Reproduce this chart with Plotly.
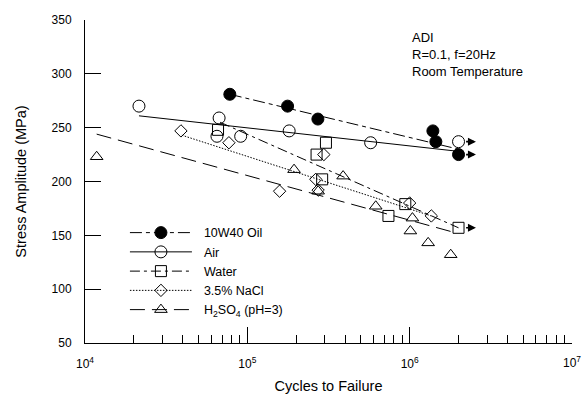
import math
import plotly.graph_objects as go

# ---- data ----
oil_x = [7.8e4, 1.77e5, 2.72e5, 1.39e6, 1.45e6, 2.0e6]
oil_y = [281, 270, 258, 247, 237, 225]
oil_fit_x = [7.8e4, 2.0e6]
oil_fit_y = [281, 230]

air_x = [2.15e4, 6.7e4, 6.5e4, 9.1e4, 1.81e5, 5.75e5, 2.0e6]
air_y = [270, 259, 242, 242, 247, 236, 237]
air_fit_x = [2.15e4, 2.0e6]
air_fit_y = [261, 228]

water_x = [6.6e4, 3.05e5, 2.67e5, 2.89e5, 7.4e5, 9.4e5, 2.0e6]
water_y = [248, 236, 225, 202, 168, 179, 157]
water_fit_x = [6.8e4, 2.0e6]
water_fit_y = [255, 157]

nacl_x = [3.9e4, 7.7e4, 2.96e5, 2.64e5, 1.58e5, 2.73e5, 1.0e6, 1.36e6]
nacl_y = [247, 236, 225, 202, 191, 192, 180, 168]
nacl_fit_x = [3.95e4, 1.36e6]
nacl_fit_y = [243, 168]

h2so4_x = [1.18e4, 1.94e5, 3.89e5, 2.73e5, 6.18e5, 1.04e6, 1.01e6, 1.3e6, 1.79e6]
h2so4_y = [223, 211, 205, 191, 177, 166, 154, 143, 132]
h2so4_fit_x = [1.18e4, 1.85e6]
h2so4_fit_y = [244, 153]

# run-out specimens (did not fail)
runout_x = [2.0e6, 2.0e6, 2.0e6]
runout_y = [225, 237, 157]

series_names = ["10W40 Oil", "Air", "Water", "3.5% NaCl", "H<sub>2</sub>SO<sub>4</sub> (pH=3)"]
x_decades = [4, 5, 6, 7]
x_minor_digits = [2, 3, 4, 5, 6, 7, 8, 9]
y_tick_vals = [50, 100, 150, 200, 250, 300, 350]

FONT = "Liberation Sans, Arial, sans-serif"
BLACK = "black"
PAD = "\u00a0\u00a0"

series = [
    (series_names[0], oil_x, oil_y, oil_fit_x, oil_fit_y, "circle", 12, "12px,4px,4px,4px"),
    (series_names[1], air_x, air_y, air_fit_x, air_fit_y, "circle-open", 12, "solid"),
    (series_names[2], water_x, water_y, water_fit_x, water_fit_y, "square-open", 11, "10px,4px,3px,4px"),
    (series_names[3], nacl_x, nacl_y, nacl_fit_x, nacl_fit_y, "diamond-open", 9.5, "1.5px,1.5px"),
    (series_names[4], h2so4_x, h2so4_y, h2so4_fit_x, h2so4_fit_y, "triangle-up-open", 11, "15px,7px"),
]

fig = go.Figure()
for name, xs, ys, fx, fy, sym, size, dash in series:
    fig.add_trace(go.Scatter(
        x=fx, y=fy, mode="lines", showlegend=False,
        line=dict(color=BLACK, width=1, dash=dash), hoverinfo="skip"))
    marker = dict(symbol=sym, size=size, color=BLACK,
                  line=dict(color=BLACK, width=1))
    fig.add_trace(go.Scatter(x=xs, y=ys, mode="markers", showlegend=False,
                             marker=marker, name=name))
    # legend entry (line style + marker)
    fig.add_trace(go.Scatter(x=[None], y=[None], mode="lines+markers", name=PAD + name,
                             line=dict(color=BLACK, width=1, dash=dash),
                             marker=marker))

# run-out arrows
for rx, ry in zip(runout_x, runout_y):
    fig.add_annotation(x=math.log10(rx * 1.28), y=ry, ax=math.log10(rx * 1.09), ay=ry,
                       xref="x", yref="y", axref="x", ayref="y", text="",
                       showarrow=True, arrowhead=2, arrowsize=1, arrowwidth=1.6,
                       arrowcolor=BLACK)

fig.add_annotation(x=0.667, y=0.975, xref="paper", yref="paper", xanchor="left",
                   yanchor="top", align="left", showarrow=False,
                   text="ADI<br>R=0.1, f=20Hz<br>Room Temperature",
                   font=dict(family=FONT, size=13, color=BLACK))

# last decade label sits at the right edge of the figure; drawn as annotation so the
# plot area is not shrunk to make room for it
fig.add_annotation(x=x_decades[-1], y=0, xref="x", yref="paper", xanchor="center",
                   yanchor="top", yshift=-9, showarrow=False,
                   text="10<sup>%d</sup>" % x_decades[-1],
                   font=dict(family=FONT, size=12, color=BLACK))

fig.update_layout(
    width=584, height=404,
    margin=dict(l=85, r=12, t=20, b=61),
    paper_bgcolor="white", plot_bgcolor="white",
    font=dict(family=FONT, size=12, color=BLACK),
    legend=dict(x=0.082, y=0.387, xanchor="left", yanchor="top",
                bgcolor="rgba(0,0,0,0)", font=dict(size=12.5), itemwidth=62,
                tracegroupgap=0),
    xaxis=dict(type="log", range=[4, 7],
               tickvals=[10 ** d for d in x_decades],
               ticktext=["10<sup>%d</sup>" % d for d in x_decades[:-1]] + [""],
               showline=True, linecolor=BLACK, linewidth=1, mirror=False,
               ticks="inside", ticklen=16, tickcolor=BLACK, showgrid=False, zeroline=False,
               ticklabelstandoff=10,
               minor=dict(ticks="inside", ticklen=8, tickcolor=BLACK, showgrid=False,
                          tickvals=[m * 10 ** d for d in x_decades[:-1] for m in x_minor_digits]),
               title=dict(text="Cycles to Failure", font=dict(size=14.5), standoff=10)),
    yaxis=dict(range=[50, 350], tickvals=y_tick_vals,
               showline=True, linecolor=BLACK, linewidth=1,
               ticks="inside", ticklen=16, tickcolor=BLACK, showgrid=False, zeroline=False,
               ticklabelstandoff=10,
               title=dict(text="Stress Amplitude (MPa)", font=dict(size=14.5), standoff=21)),
)

fig.write_html("out.html")
